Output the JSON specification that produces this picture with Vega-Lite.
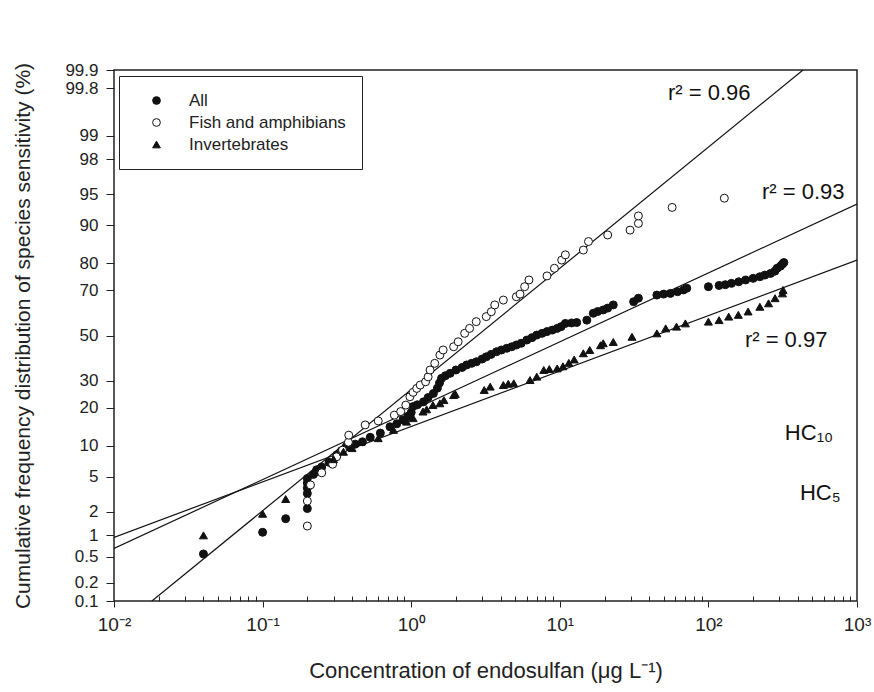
{
  "$schema": "https://vega.github.io/schema/vega-lite/v6.json",
  "width": 743,
  "height": 531,
  "autosize": "none",
  "padding": {"left": 114, "top": 70, "right": 17, "bottom": 91},
  "background": "white",
  "config": {
    "view": {"stroke": "#222", "strokeWidth": 1.5},
    "font": "Liberation Sans",
    "axis": {"grid": false, "domainColor": "#222", "tickColor": "#222", "labelColor": "#222", "titleColor": "#222", "labelFont": "Liberation Sans", "titleFont": "Liberation Sans", "titleFontWeight": "normal"}
  },
  "datasets": {
    "pts": [
      {"group": "All", "conc": 0.04, "pct": 0.55}, {"group": "All", "conc": 0.1, "pct": 1.1}, {"group": "All", "conc": 0.143, "pct": 1.65}, {"group": "All", "conc": 0.2, "pct": 2.2}, {"group": "All", "conc": 0.2, "pct": 3.3}, {"group": "All", "conc": 0.2, "pct": 3.8}, {"group": "All", "conc": 0.2, "pct": 4.3}, {"group": "All", "conc": 0.2, "pct": 4.8}, {"group": "All", "conc": 0.22, "pct": 5.3}, {"group": "All", "conc": 0.231, "pct": 5.9}, {"group": "All", "conc": 0.25, "pct": 6.3}, {"group": "All", "conc": 0.28, "pct": 7.0}, {"group": "All", "conc": 0.315, "pct": 8.2}, {"group": "All", "conc": 0.34, "pct": 9.0}, {"group": "All", "conc": 0.366, "pct": 9.8}, {"group": "All", "conc": 0.42, "pct": 10.3}, {"group": "All", "conc": 0.47, "pct": 10.8}, {"group": "All", "conc": 0.53, "pct": 11.8}, {"group": "All", "conc": 0.62, "pct": 12.8}, {"group": "All", "conc": 0.72, "pct": 14.4}, {"group": "All", "conc": 0.8, "pct": 15.2}, {"group": "All", "conc": 0.88, "pct": 16.3}, {"group": "All", "conc": 0.95, "pct": 17.3}, {"group": "All", "conc": 1.0, "pct": 18.5}, {"group": "All", "conc": 1.03, "pct": 20.4}, {"group": "All", "conc": 1.1, "pct": 21}, {"group": "All", "conc": 1.21, "pct": 22}, {"group": "All", "conc": 1.3, "pct": 23.5}, {"group": "All", "conc": 1.41, "pct": 25}, {"group": "All", "conc": 1.5, "pct": 27}, {"group": "All", "conc": 1.55, "pct": 29}, {"group": "All", "conc": 1.6, "pct": 30.9}, {"group": "All", "conc": 1.7, "pct": 32}, {"group": "All", "conc": 1.83, "pct": 33}, {"group": "All", "conc": 2.0, "pct": 34.4}, {"group": "All", "conc": 2.2, "pct": 35.5}, {"group": "All", "conc": 2.36, "pct": 36.6}, {"group": "All", "conc": 2.55, "pct": 37.3}, {"group": "All", "conc": 2.75, "pct": 38}, {"group": "All", "conc": 3.0, "pct": 39.2}, {"group": "All", "conc": 3.2, "pct": 40.2}, {"group": "All", "conc": 3.45, "pct": 41.3}, {"group": "All", "conc": 3.75, "pct": 42.5}, {"group": "All", "conc": 4.05, "pct": 43.3}, {"group": "All", "conc": 4.4, "pct": 44.1}, {"group": "All", "conc": 4.75, "pct": 44.8}, {"group": "All", "conc": 5.1, "pct": 45.6}, {"group": "All", "conc": 5.5, "pct": 46.4}, {"group": "All", "conc": 6.0, "pct": 47.9}, {"group": "All", "conc": 6.5, "pct": 49}, {"group": "All", "conc": 7.0, "pct": 50.2}, {"group": "All", "conc": 7.6, "pct": 51}, {"group": "All", "conc": 8.2, "pct": 51.8}, {"group": "All", "conc": 8.9, "pct": 52.5}, {"group": "All", "conc": 9.6, "pct": 53.3}, {"group": "All", "conc": 10.2, "pct": 54.1}, {"group": "All", "conc": 10.9, "pct": 55.6}, {"group": "All", "conc": 12, "pct": 55.8}, {"group": "All", "conc": 13, "pct": 56}, {"group": "All", "conc": 15.2, "pct": 57.1}, {"group": "All", "conc": 16.8, "pct": 60.2}, {"group": "All", "conc": 18, "pct": 61}, {"group": "All", "conc": 19.6, "pct": 61.7}, {"group": "All", "conc": 21, "pct": 62.5}, {"group": "All", "conc": 22.9, "pct": 63.9}, {"group": "All", "conc": 31.4, "pct": 65.3}, {"group": "All", "conc": 33.8, "pct": 66.8}, {"group": "All", "conc": 45, "pct": 68.1}, {"group": "All", "conc": 50, "pct": 68.5}, {"group": "All", "conc": 55.5, "pct": 68.8}, {"group": "All", "conc": 62, "pct": 69.5}, {"group": "All", "conc": 68, "pct": 70.2}, {"group": "All", "conc": 71.5, "pct": 70.9}, {"group": "All", "conc": 100, "pct": 71.5}, {"group": "All", "conc": 118, "pct": 72}, {"group": "All", "conc": 130, "pct": 72.3}, {"group": "All", "conc": 143, "pct": 72.8}, {"group": "All", "conc": 160, "pct": 73.4}, {"group": "All", "conc": 178, "pct": 74.1}, {"group": "All", "conc": 200, "pct": 74.7}, {"group": "All", "conc": 222, "pct": 75.3}, {"group": "All", "conc": 240, "pct": 75.9}, {"group": "All", "conc": 262, "pct": 76.5}, {"group": "All", "conc": 280, "pct": 77.3}, {"group": "All", "conc": 290, "pct": 78.3}, {"group": "All", "conc": 305, "pct": 79}, {"group": "All", "conc": 315, "pct": 79.7}, {"group": "All", "conc": 322, "pct": 80.2},
      {"group": "Fish and amphibians", "conc": 0.2, "pct": 1.33}, {"group": "Fish and amphibians", "conc": 0.2, "pct": 2.7}, {"group": "Fish and amphibians", "conc": 0.21, "pct": 4.1}, {"group": "Fish and amphibians", "conc": 0.25, "pct": 5.5}, {"group": "Fish and amphibians", "conc": 0.296, "pct": 6.7}, {"group": "Fish and amphibians", "conc": 0.315, "pct": 7.9}, {"group": "Fish and amphibians", "conc": 0.345, "pct": 9.1}, {"group": "Fish and amphibians", "conc": 0.378, "pct": 10.7}, {"group": "Fish and amphibians", "conc": 0.38, "pct": 12.3}, {"group": "Fish and amphibians", "conc": 0.49, "pct": 14.9}, {"group": "Fish and amphibians", "conc": 0.6, "pct": 16}, {"group": "Fish and amphibians", "conc": 0.77, "pct": 17.7}, {"group": "Fish and amphibians", "conc": 0.85, "pct": 18.8}, {"group": "Fish and amphibians", "conc": 0.92, "pct": 20.9}, {"group": "Fish and amphibians", "conc": 0.98, "pct": 23.8}, {"group": "Fish and amphibians", "conc": 1.03, "pct": 25.4}, {"group": "Fish and amphibians", "conc": 1.09, "pct": 26.9}, {"group": "Fish and amphibians", "conc": 1.15, "pct": 28.2}, {"group": "Fish and amphibians", "conc": 1.25, "pct": 29.5}, {"group": "Fish and amphibians", "conc": 1.3, "pct": 31.5}, {"group": "Fish and amphibians", "conc": 1.34, "pct": 34.4}, {"group": "Fish and amphibians", "conc": 1.44, "pct": 37.3}, {"group": "Fish and amphibians", "conc": 1.56, "pct": 41}, {"group": "Fish and amphibians", "conc": 1.64, "pct": 43.3}, {"group": "Fish and amphibians", "conc": 1.93, "pct": 44.8}, {"group": "Fish and amphibians", "conc": 2.07, "pct": 47.1}, {"group": "Fish and amphibians", "conc": 2.29, "pct": 51}, {"group": "Fish and amphibians", "conc": 2.47, "pct": 53.3}, {"group": "Fish and amphibians", "conc": 2.74, "pct": 56.4}, {"group": "Fish and amphibians", "conc": 3.2, "pct": 58.7}, {"group": "Fish and amphibians", "conc": 3.46, "pct": 60.9}, {"group": "Fish and amphibians", "conc": 3.65, "pct": 63.9}, {"group": "Fish and amphibians", "conc": 4.17, "pct": 66}, {"group": "Fish and amphibians", "conc": 5.1, "pct": 67.4}, {"group": "Fish and amphibians", "conc": 5.4, "pct": 68.5}, {"group": "Fish and amphibians", "conc": 5.8, "pct": 71.5}, {"group": "Fish and amphibians", "conc": 6.2, "pct": 74.1}, {"group": "Fish and amphibians", "conc": 8.2, "pct": 75.6}, {"group": "Fish and amphibians", "conc": 9.2, "pct": 78.3}, {"group": "Fish and amphibians", "conc": 10.3, "pct": 81}, {"group": "Fish and amphibians", "conc": 10.9, "pct": 82.6}, {"group": "Fish and amphibians", "conc": 14.4, "pct": 84}, {"group": "Fish and amphibians", "conc": 15.6, "pct": 86.3}, {"group": "Fish and amphibians", "conc": 21, "pct": 87.9}, {"group": "Fish and amphibians", "conc": 29.7, "pct": 89}, {"group": "Fish and amphibians", "conc": 33.8, "pct": 90.4}, {"group": "Fish and amphibians", "conc": 33.8, "pct": 91.8}, {"group": "Fish and amphibians", "conc": 57, "pct": 93.2}, {"group": "Fish and amphibians", "conc": 128, "pct": 94.5},
      {"group": "Invertebrates", "conc": 0.04, "pct": 1.0}, {"group": "Invertebrates", "conc": 0.1, "pct": 1.9}, {"group": "Invertebrates", "conc": 0.143, "pct": 2.85}, {"group": "Invertebrates", "conc": 0.22, "pct": 5.6}, {"group": "Invertebrates", "conc": 0.3, "pct": 7.5}, {"group": "Invertebrates", "conc": 0.35, "pct": 8.8}, {"group": "Invertebrates", "conc": 0.4, "pct": 9.5}, {"group": "Invertebrates", "conc": 0.46, "pct": 10.8}, {"group": "Invertebrates", "conc": 0.6, "pct": 11.6}, {"group": "Invertebrates", "conc": 0.76, "pct": 13.6}, {"group": "Invertebrates", "conc": 0.93, "pct": 15.8}, {"group": "Invertebrates", "conc": 1.03, "pct": 16.8}, {"group": "Invertebrates", "conc": 1.2, "pct": 18.8}, {"group": "Invertebrates", "conc": 1.27, "pct": 19.5}, {"group": "Invertebrates", "conc": 1.4, "pct": 20.9}, {"group": "Invertebrates", "conc": 1.56, "pct": 21.5}, {"group": "Invertebrates", "conc": 1.66, "pct": 22.6}, {"group": "Invertebrates", "conc": 1.93, "pct": 24.4}, {"group": "Invertebrates", "conc": 1.98, "pct": 24.8}, {"group": "Invertebrates", "conc": 3.1, "pct": 26.3}, {"group": "Invertebrates", "conc": 3.4, "pct": 27.6}, {"group": "Invertebrates", "conc": 4.17, "pct": 28.2}, {"group": "Invertebrates", "conc": 4.5, "pct": 28.7}, {"group": "Invertebrates", "conc": 4.9, "pct": 28.9}, {"group": "Invertebrates", "conc": 6.3, "pct": 30.2}, {"group": "Invertebrates", "conc": 7.0, "pct": 31.6}, {"group": "Invertebrates", "conc": 7.8, "pct": 34.4}, {"group": "Invertebrates", "conc": 8.5, "pct": 34.8}, {"group": "Invertebrates", "conc": 9.6, "pct": 35.1}, {"group": "Invertebrates", "conc": 10.5, "pct": 36}, {"group": "Invertebrates", "conc": 11.5, "pct": 37.5}, {"group": "Invertebrates", "conc": 12.5, "pct": 39}, {"group": "Invertebrates", "conc": 14.4, "pct": 41.8}, {"group": "Invertebrates", "conc": 15.9, "pct": 43.3}, {"group": "Invertebrates", "conc": 18.8, "pct": 45.5}, {"group": "Invertebrates", "conc": 19.6, "pct": 46.4}, {"group": "Invertebrates", "conc": 22.9, "pct": 47}, {"group": "Invertebrates", "conc": 30.6, "pct": 49.4}, {"group": "Invertebrates", "conc": 45, "pct": 51}, {"group": "Invertebrates", "conc": 51.6, "pct": 53.3}, {"group": "Invertebrates", "conc": 61, "pct": 54.1}, {"group": "Invertebrates", "conc": 70, "pct": 55.6}, {"group": "Invertebrates", "conc": 100, "pct": 56.4}, {"group": "Invertebrates", "conc": 118, "pct": 57.1}, {"group": "Invertebrates", "conc": 137, "pct": 58.7}, {"group": "Invertebrates", "conc": 159, "pct": 59.5}, {"group": "Invertebrates", "conc": 185, "pct": 61}, {"group": "Invertebrates", "conc": 222, "pct": 63.1}, {"group": "Invertebrates", "conc": 254, "pct": 64.6}, {"group": "Invertebrates", "conc": 281, "pct": 66.8}, {"group": "Invertebrates", "conc": 315, "pct": 68.8}, {"group": "Invertebrates", "conc": 318, "pct": 70.2}
    ],
    "fits": [
      {"fit": "Fish and amphibians", "conc": 0.018, "pct": 0.1}, {"fit": "Fish and amphibians", "conc": 433, "pct": 99.9},
      {"fit": "All", "conc": 0.01, "pct": 0.66}, {"fit": "All", "conc": 1000, "pct": 93.7},
      {"fit": "Invertebrates", "conc": 0.01, "pct": 0.94}, {"fit": "Invertebrates", "conc": 1000, "pct": 81}
    ],
    "notes": [
      {"label": "r² = 0.96", "conc": 53.5, "pct": 99.76},
      {"label": "r² = 0.93", "conc": 229.6, "pct": 95.26},
      {"label": "r² = 0.97", "conc": 176, "pct": 47.9},
      {"label": "HC₁₀", "conc": 327, "pct": 12.8},
      {"label": "HC₅", "conc": 413, "pct": 3.33}
    ]
  },
  "encoding": {
    "x": {
      "field": "conc", "type": "quantitative",
      "scale": {"type": "log", "domain": [0.01, 1000], "nice": false},
      "axis": {
        "title": "Concentration of endosulfan (μg L⁻¹)",
        "titleFontSize": 22, "titleY": 69, "titleBaseline": "middle",
        "values": [0.01, 0.02, 0.03, 0.04, 0.05, 0.06, 0.07, 0.08, 0.09, 0.1, 0.2, 0.3, 0.4, 0.5, 0.6, 0.7, 0.8, 0.9, 1, 2, 3, 4, 5, 6, 7, 8, 9, 10, 20, 30, 40, 50, 60, 70, 80, 90, 100, 200, 300, 400, 500, 600, 700, 800, 900, 1000],
        "labelExpr": "datum.value == 0.01 ? '10⁻²' : datum.value == 0.1 ? '10⁻¹' : datum.value == 1 ? '10⁰' : datum.value == 10 ? '10¹' : datum.value == 100 ? '10²' : datum.value == 1000 ? '10³' : ''",
        "labelFontSize": 19, "labelFlush": false, "labelOverlap": false, "labelPadding": 8,
        "tickSize": {"condition": {"test": "indexof([0.01, 0.1, 1, 10, 100, 1000], datum.value) >= 0", "value": 6}, "value": -5},
        "domain": false
      }
    },
    "y": {
      "field": "z", "type": "quantitative",
      "scale": {"domain": [-3.0902, 3.0902], "nice": false, "zero": false},
      "axis": {
        "title": "Cumulative frequency distribution of species sensitivity (%)",
        "titleFontSize": 21, "titleX": -91, "titleY": 265.5, "titleAngle": -90, "titleAlign": "center", "titleBaseline": "middle",
        "values": [-3.0902, -2.8782, -2.5758, -2.3263, -2.0537, -1.6449, -1.2816, -0.8416, -0.5244, 0, 0.5244, 0.8416, 1.2816, 1.6449, 2.0537, 2.3263, 2.8782, 3.0902],
        "labelExpr": "format(cumulativeNormal(datum.value) * 100, '.3~g')",
        "labelFontSize": 17, "labelFlush": false, "labelOverlap": false, "labelPadding": 8, "tickSize": 8,
        "domain": false
      }
    }
  },
  "layer": [
    {
      "data": {"name": "fits"},
      "transform": [{"calculate": "quantileNormal(datum.pct / 100)", "as": "z"}],
      "mark": {"type": "line", "clip": true, "color": "#111", "strokeWidth": 1.2},
      "encoding": {"detail": {"field": "fit"}}
    },
    {
      "data": {"name": "pts"},
      "transform": [{"calculate": "quantileNormal(datum.pct / 100)", "as": "z"}],
      "mark": {"type": "point", "filled": true, "strokeWidth": 1, "size": 64, "opacity": 1},
      "encoding": {
        "shape": {
          "field": "group", "type": "nominal",
          "scale": {"domain": ["All", "Fish and amphibians", "Invertebrates"], "range": ["circle", "circle", "triangle-up"]},
          "legend": {"orient": "none", "legendX": 5, "legendY": 6, "title": null, "strokeColor": "#222", "fillColor": "white", "padding": 16, "symbolOffset": 13, "labelOffset": 24, "labelFontSize": 17, "labelColor": "#222", "rowPadding": 4, "symbolSize": 60, "symbolStrokeWidth": 1}
        },
        "fill": {
          "field": "group", "type": "nominal",
          "scale": {"domain": ["All", "Fish and amphibians", "Invertebrates"], "range": ["#111", "white", "#111"]},
          "legend": {"orient": "none", "legendX": 5, "legendY": 6, "title": null, "strokeColor": "#222", "fillColor": "white", "padding": 16, "symbolOffset": 13, "labelOffset": 24, "labelFontSize": 17, "labelColor": "#222", "rowPadding": 4, "symbolSize": 60, "symbolStrokeWidth": 1}
        },
        "stroke": {
          "field": "group", "type": "nominal",
          "scale": {"domain": ["All", "Fish and amphibians", "Invertebrates"], "range": ["#111", "#111", "#111"]},
          "legend": {"orient": "none", "legendX": 5, "legendY": 6, "title": null, "strokeColor": "#222", "fillColor": "white", "padding": 16, "symbolOffset": 13, "labelOffset": 24, "labelFontSize": 17, "labelColor": "#222", "rowPadding": 4, "symbolSize": 60, "symbolStrokeWidth": 1}
        }
      }
    },
    {
      "data": {"name": "notes"},
      "transform": [{"calculate": "quantileNormal(datum.pct / 100)", "as": "z"}],
      "mark": {"type": "text", "align": "left", "baseline": "middle", "fontSize": 22, "color": "#111", "font": "Liberation Sans"},
      "encoding": {"text": {"field": "label"}}
    }
  ]
}
